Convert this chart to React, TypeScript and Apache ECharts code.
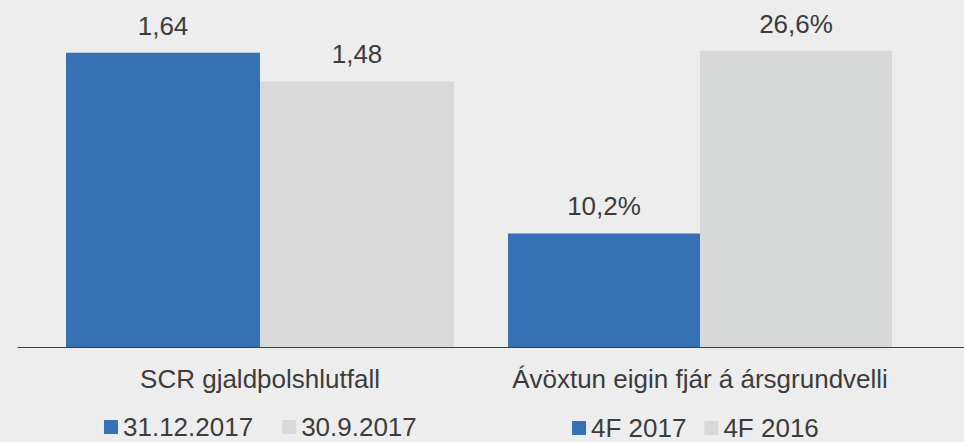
import React, { useEffect, useRef } from "react";
import * as echarts from "echarts";

const leftCategories = ["SCR gjaldþolshlutfall"];
const rightCategories = ["Ávöxtun eigin fjár á ársgrundvelli"];
const leftSeriesNames = ["31.12.2017", "30.9.2017"];
const rightSeriesNames = ["4F 2017", "4F 2016"];
const leftValues1 = [1.64];
const leftValues2 = [1.48];
const rightValues1 = [10.2];
const rightValues2 = [26.6];

const BLUE = "#3671B3";
const GRAY_L = "#D9D9D9";
const GRAY_R = "#D7D9D8";
const TEXT = "#3C3C3C";
const FONT = "'Liberation Sans', Arial, sans-serif";

export default function App() {
  const ref = useRef<HTMLDivElement>(null);
  useEffect(() => {
    if (!ref.current) return;
    const chart = echarts.init(ref.current, undefined, { renderer: "svg" });
    const axisLine = { show: true, lineStyle: { color: "#404040", width: 1.2 } };
    const catLabel = { color: TEXT, fontSize: 26, fontFamily: FONT, margin: 19 };
    const barLabel = (fmt: (v: number) => string) => ({
      show: true,
      position: "top" as const,
      distance: 14,
      color: TEXT,
      fontSize: 26,
      fontFamily: FONT,
      formatter: (p: any) => fmt(p.value as number),
    });
    const fmtRatio = (v: number) => v.toFixed(2).replace(".", ",");
    const fmtPct = (v: number) => v.toFixed(1).replace(".", ",") + "%";
    chart.setOption({
      animation: false,
      backgroundColor: "#EDEDED",
      textStyle: { fontFamily: FONT },
      grid: [
        { left: 18, width: 484, top: 24, bottom: 95 },
        { left: 436, right: 0, top: 24, bottom: 95 },
      ],
      xAxis: [
        {
          type: "category",
          gridIndex: 0,
          data: leftCategories,
          axisLine,
          axisTick: { show: false },
          axisLabel: catLabel,
        },
        {
          type: "category",
          gridIndex: 1,
          data: rightCategories,
          axisLine,
          axisTick: { show: false },
          axisLabel: catLabel,
        },
      ],
      yAxis: [
        { type: "value", gridIndex: 0, min: 0, max: 1.8, show: false, splitLine: { show: false } },
        { type: "value", gridIndex: 1, min: 0, max: 29, show: false, splitLine: { show: false } },
      ],
      legend: [
        {
          data: leftSeriesNames,
          left: 104,
          top: 414,
          icon: "rect",
          itemWidth: 14,
          itemHeight: 14,
          itemGap: 29,
          padding: 0,
          textStyle: { color: TEXT, fontSize: 26, fontFamily: FONT },
        },
        {
          data: rightSeriesNames,
          left: 572,
          top: 415,
          icon: "rect",
          itemWidth: 14,
          itemHeight: 14,
          itemGap: 18,
          padding: 0,
          textStyle: { color: TEXT, fontSize: 26, fontFamily: FONT },
        },
      ],
      series: [
        {
          name: leftSeriesNames[0],
          type: "bar",
          xAxisIndex: 0,
          yAxisIndex: 0,
          data: leftValues1,
          barWidth: 194,
          barGap: "0%",
          itemStyle: { color: BLUE },
          label: barLabel(fmtRatio),
        },
        {
          name: leftSeriesNames[1],
          type: "bar",
          xAxisIndex: 0,
          yAxisIndex: 0,
          data: leftValues2,
          barWidth: 194,
          barGap: "0%",
          itemStyle: { color: GRAY_L },
          label: barLabel(fmtRatio),
        },
        {
          name: rightSeriesNames[0],
          type: "bar",
          xAxisIndex: 1,
          yAxisIndex: 1,
          data: rightValues1,
          barWidth: 192,
          barGap: "0%",
          itemStyle: { color: BLUE },
          label: barLabel(fmtPct),
        },
        {
          name: rightSeriesNames[1],
          type: "bar",
          xAxisIndex: 1,
          yAxisIndex: 1,
          data: rightValues2,
          barWidth: 192,
          barGap: "0%",
          itemStyle: { color: GRAY_R },
          label: barLabel(fmtPct),
        },
      ],
    });
    return () => chart.dispose();
  }, []);
  return (
    <div
      ref={ref}
      style={{ position: "absolute", left: 0, top: 0, width: 964, height: 442 }}
    />
  );
}
